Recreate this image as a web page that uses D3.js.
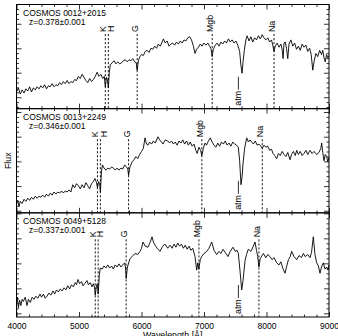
<!DOCTYPE html>
<html><head><meta charset="utf-8">
<script src="https://cdn.jsdelivr.net/npm/d3@7"></script>
<style>
body{margin:0;background:#fff}
svg{display:block}
text{font-family:"Liberation Sans",Arial,Helvetica,sans-serif;fill:#000}
</style>
</head><body>
<svg id="c" width="338" height="336"></svg>
<script>
// ---------- data ----------
const xTickValues = [4000, 5000, 6000, 7000, 8000, 9000];
const galaxyNames = ["COSMOS 0012+2015", "COSMOS 0013+2249", "COSMOS 0049+5128"];
const redshifts = [0.378, 0.346, 0.337];
const redshiftLabels = ["z=0.378\u00b10.001", "z=0.346\u00b10.001", "z=0.337\u00b10.001"];
const lineNames = ["K", "H", "G", "Mgb", "Na"];
const restWaves = [3934, 3969, 4304, 5175, 5893];
const atmWave = 7600;
const yMajor1 = [11, 34.5, 58, 81.5];
const yMajor2 = [2, 25.7, 49.4, 73.1, 96.8];
const yMajor3 = [3.5, 27.5, 51.5, 75.5, 99.5];

// [wavelength (Å), flux (relative, panel units)]
const spec1 = [[4000,16],[4030,20],[4060,14],[4090,18],[4120,15],[4150,19],[4180,17],[4210,21],[4240,16],[4270,20],[4300,18],[4330,21],[4360,19],[4390,22],[4420,20],[4450,23],[4480,19],[4510,22],[4540,21],[4570,24],[4600,21],[4630,23],[4660,22],[4690,25],[4720,23],[4750,26],[4780,24],[4810,27],[4840,24],[4870,26],[4900,25],[4930,28],[4960,27],[4990,31],[5020,29],[5050,33],[5080,30],[5110,27],[5140,25],[5170,29],[5200,26],[5230,28],[5260,31],[5290,35],[5320,31],[5350,33],[5380,29],[5405,31],[5421,21],[5440,30],[5455,28],[5469,20],[5485,35],[5500,42],[5530,44],[5560,46],[5590,43],[5620,45],[5650,43],[5680,44],[5710,46],[5740,47],[5770,45],[5800,47],[5830,46],[5860,48],[5890,45],[5915,44],[5930,37],[5950,46],[5975,50],[6000,52],[6030,51],[6060,55],[6090,56],[6120,54],[6150,58],[6180,57],[6210,60],[6240,58],[6270,62],[6300,60],[6330,64],[6350,67],[6380,63],[6410,65],[6440,60],[6470,62],[6500,63],[6530,61],[6560,64],[6590,62],[6620,65],[6650,63],[6680,66],[6710,65],[6740,68],[6770,69],[6800,66],[6830,60],[6856,53],[6880,57],[6910,59],[6940,62],[6970,60],[7000,63],[7030,61],[7060,63],[7090,60],[7110,58],[7130,50],[7150,57],[7180,61],[7210,63],[7240,60],[7270,64],[7300,62],[7330,65],[7360,63],[7390,67],[7420,64],[7450,66],[7480,63],[7510,65],[7540,61],[7570,55],[7590,42],[7608,34],[7625,45],[7645,56],[7670,66],[7690,70],[7720,65],[7750,69],[7780,64],[7810,68],[7840,66],[7870,70],[7900,67],[7930,71],[7960,68],[7990,66],[8020,68],[8050,64],[8080,66],[8100,61],[8120,55],[8140,60],[8170,63],[8200,59],[8230,62],[8250,57],[8265,48],[8280,63],[8300,64],[8320,58],[8340,48],[8360,62],[8390,66],[8420,60],[8450,63],[8480,57],[8510,60],[8540,56],[8570,62],[8600,59],[8630,61],[8660,55],[8690,58],[8715,52],[8740,37],[8760,45],[8790,53],[8820,50],[8850,56],[8880,52],[8900,56],[8920,49],[8940,45],[8960,52],[8980,49],[9000,51]];

const spec2 = [[4000,8],[4020,12],[4040,6],[4060,11],[4090,9],[4120,13],[4150,11],[4180,14],[4210,12],[4240,15],[4270,13],[4300,16],[4330,14],[4360,16],[4390,15],[4420,17],[4450,15],[4480,18],[4510,16],[4540,19],[4570,17],[4600,20],[4630,18],[4660,20],[4690,19],[4720,21],[4750,19],[4780,21],[4810,20],[4840,22],[4870,20],[4900,27],[4930,24],[4960,28],[4990,26],[5020,23],[5050,27],[5080,24],[5110,29],[5140,26],[5170,23],[5200,28],[5230,30],[5255,33],[5280,29],[5295,24],[5315,30],[5330,28],[5342,20],[5360,40],[5375,46],[5400,43],[5430,41],[5460,43],[5490,42],[5520,44],[5550,43],[5580,41],[5610,43],[5640,41],[5670,43],[5700,42],[5730,46],[5760,44],[5780,42],[5793,36],[5815,44],[5850,49],[5880,51],[5910,54],[5940,52],[5970,56],[6000,59],[6030,62],[6056,72],[6080,66],[6104,65],[6130,68],[6160,66],[6190,69],[6220,67],[6264,73],[6290,70],[6320,68],[6344,66],[6380,70],[6420,69],[6450,67],[6480,69],[6510,66],[6540,68],[6570,65],[6600,69],[6630,67],[6660,70],[6690,66],[6720,69],[6750,65],[6780,68],[6810,64],[6840,66],[6870,60],[6890,57],[6920,63],[6945,60],[6966,55],[6990,62],[7016,67],[7040,65],[7070,69],[7100,72],[7130,68],[7160,65],[7190,63],[7220,67],[7250,64],[7280,68],[7310,66],[7340,69],[7370,65],[7400,67],[7430,64],[7460,68],[7490,66],[7520,65],[7549,63],[7570,50],[7592,27],[7610,35],[7624,47],[7650,62],[7683,72],[7710,68],[7735,70],[7763,68],[7790,66],[7820,69],[7850,65],[7880,66],[7910,64],[7933,62],[7960,65],[7990,63],[8020,64],[8050,60],[8080,61],[8104,57],[8130,55],[8163,52],[8190,57],[8220,55],[8250,59],[8280,56],[8310,54],[8340,58],[8376,51],[8400,56],[8430,59],[8460,55],[8483,60],[8510,56],[8540,59],[8570,55],[8600,57],[8630,60],[8660,56],[8696,60],[8730,57],[8760,59],[8803,56],[8840,58],[8870,62],[8883,67],[8900,58],[8920,50],[8940,56],[8963,54],[8980,49],[9000,53]];

const spec3 = [[4000,12],[4015,19],[4030,9],[4050,16],[4070,11],[4090,17],[4110,15],[4140,19],[4168,11],[4190,17],[4220,14],[4250,19],[4280,17],[4310,20],[4340,18],[4376,22],[4400,19],[4430,22],[4460,18],[4488,20],[4520,23],[4550,21],[4584,25],[4610,22],[4640,26],[4670,24],[4700,27],[4730,25],[4760,28],[4790,26],[4820,30],[4850,27],[4880,31],[4910,29],[4940,33],[4960,31],[4984,36],[5010,32],[5040,34],[5064,30],[5090,32],[5128,35],[5150,31],[5180,33],[5208,29],[5230,32],[5250,28],[5260,21],[5280,30],[5293,32],[5307,22],[5325,40],[5340,47],[5370,46],[5400,49],[5430,47],[5460,50],[5490,47],[5520,49],[5550,46],[5580,50],[5610,48],[5640,51],[5670,48],[5700,50],[5730,52],[5745,47],[5755,37],[5775,48],[5816,56],[5850,58],[5896,61],[5940,60],[5976,63],[6000,66],[6024,72],[6060,68],[6104,67],[6140,72],[6168,77],[6190,72],[6216,69],[6250,66],[6296,63],[6330,67],[6376,70],[6420,66],[6456,69],[6490,66],[6520,70],[6550,67],[6580,71],[6610,68],[6640,70],[6670,66],[6700,69],[6730,65],[6760,68],[6790,64],[6820,66],[6856,58],[6883,45],[6900,52],[6918,46],[6940,55],[6963,58],[7000,61],[7043,63],[7080,66],[7123,72],[7160,64],[7203,60],[7240,63],[7270,61],[7304,65],[7340,62],[7384,58],[7420,63],[7464,67],[7500,63],[7530,64],[7549,61],[7575,45],[7603,26],[7625,35],[7656,54],[7680,60],[7709,65],[7750,63],[7789,68],[7816,72],[7840,64],[7860,58],[7878,48],[7900,56],[7949,61],[7990,57],[8020,60],[8056,58],[8090,55],[8120,57],[8163,52],[8200,50],[8230,53],[8260,47],[8296,42],[8320,48],[8350,55],[8380,58],[8403,63],[8440,58],[8483,55],[8520,59],[8560,57],[8589,61],[8620,58],[8660,60],[8696,57],[8720,62],[8749,77],[8775,60],[8803,52],[8830,49],[8856,42],[8880,48],[8909,52],[8935,46],[8963,48],[8985,45],[9000,50]];

// ---------- layout ----------
const L = 16.5, R = 329, T = 4.5, B = 317;
const ph = (B - T) / 3;
const labelOffsets = [27.5, 28.5, 24.5];   // distance from panel top to start of line labels
const khShift = [[-2.5, 2.5], [-2.5, 3], [-2.5, 2]];
const fs = 8.8;
const titleFs = 8.5;

const svg = d3.select("#c");
const x = d3.scaleLinear().domain([4000, 9000]).range([L, R]);

const panels = [
  {spec: spec1, yMajor: yMajor1},
  {spec: spec2, yMajor: yMajor2},
  {spec: spec3, yMajor: yMajor3}
];

panels.forEach((p, i) => {
  const top = T + i * ph, bot = top + ph;
  const y = d3.scaleLinear().domain([0, 100]).range([bot, top]);
  const g = svg.append("g");

  // ticks
  const xMinor = d3.range(4000, 9001, 200).filter(v => v % 1000 !== 0);
  const step = (p.yMajor[1] - p.yMajor[0]) / 5;
  const yMinor = [];
  for (let v = p.yMajor[0] - 5 * step; v <= 100; v += step) {
    if (v >= 0 && !p.yMajor.some(m => Math.abs(m - v) < 1e-6)) yMinor.push(v);
  }
  const tickGroups = [
    [d3.axisTop(x), `translate(0,${bot})`, xTickValues, 5],
    [d3.axisTop(x), `translate(0,${bot})`, xMinor, 2.5],
    [d3.axisBottom(x), `translate(0,${top})`, xTickValues, 5],
    [d3.axisBottom(x), `translate(0,${top})`, xMinor, 2.5],
    [d3.axisRight(y), `translate(${L},0)`, p.yMajor, 5],
    [d3.axisRight(y), `translate(${L},0)`, yMinor, 2.5],
    [d3.axisLeft(y), `translate(${R},0)`, p.yMajor, 5],
    [d3.axisLeft(y), `translate(${R},0)`, yMinor, 2.5]
  ];
  tickGroups.forEach(([ax, tr, vals, size]) => {
    const a = g.append("g").attr("transform", tr)
      .call(ax.tickValues(vals).tickSize(size).tickFormat(""));
    a.select(".domain").remove();
    a.selectAll("line").attr("stroke", "#000").attr("stroke-width", 0.8);
  });

  // frame
  g.append("rect").attr("x", L).attr("y", top).attr("width", R - L).attr("height", ph)
    .attr("fill", "none").attr("stroke", "#000").attr("stroke-width", 1);

  // dashed lines + labels
  const z = redshifts[i];
  const lblY = top + labelOffsets[i];
  restWaves.forEach((rw, j) => {
    const lx = x(rw * (1 + z));
    g.append("line").attr("x1", lx).attr("x2", lx).attr("y1", lblY + 2).attr("y2", bot)
      .attr("stroke", "#000").attr("stroke-width", 0.9).attr("stroke-dasharray", "2.2,1.8");
    let c = lx - 2;
    if (j === 0) c = lx + khShift[i][0];
    if (j === 1) c = lx + khShift[i][1];
    g.append("text").attr("transform", `translate(${c + 3.2},${lblY}) rotate(-90)`)
      .attr("font-size", fs).text(lineNames[j]);
  });

  // spectrum
  g.append("path").datum(p.spec)
    .attr("d", d3.line().x(d => x(d[0])).y(d => y(d[1])))
    .attr("fill", "none").attr("stroke", "#000").attr("stroke-width", 0.9)
    .attr("stroke-linejoin", "round");

  // atm label
  const ax0 = x(atmWave) - 0.7;
  const ay = bot - 3;
  g.append("text").attr("transform", `translate(${ax0},${ay}) rotate(-90)`)
    .attr("font-size", fs).text("atm");
  g.append("line").attr("x1", ax0 - 2.4).attr("x2", ax0 - 2.4)
    .attr("y1", ay - 16).attr("y2", ay - 29)
    .attr("stroke", "#000").attr("stroke-width", 0.8);

  // titles
  g.append("text").attr("x", L + 6.5).attr("y", top + 11.5).attr("font-size", titleFs).text(galaxyNames[i]);
  g.append("text").attr("x", L + 12.5).attr("y", top + 20).attr("font-size", titleFs).text(redshiftLabels[i]);
});

// x tick labels
const xa = svg.append("g").attr("transform", `translate(0,${B})`)
  .call(d3.axisBottom(x).tickValues(xTickValues).tickSize(0).tickPadding(5.5).tickFormat(d3.format("d")));
xa.select(".domain").remove();
xa.selectAll("text").attr("font-size", 8.5).attr("font-family", '"Liberation Sans",Arial,sans-serif').attr("fill", "#000");

// axis titles
svg.append("text").attr("transform", `translate(10.5,${(T + B) / 2}) rotate(-90)`)
  .attr("text-anchor", "middle").attr("font-size", fs).text("Flux");
svg.append("text").attr("x", (L + R) / 2).attr("y", 337.5)
  .attr("text-anchor", "middle").attr("font-size", fs).text("Wavelength [\u00c5]");
</script>
</body></html>
